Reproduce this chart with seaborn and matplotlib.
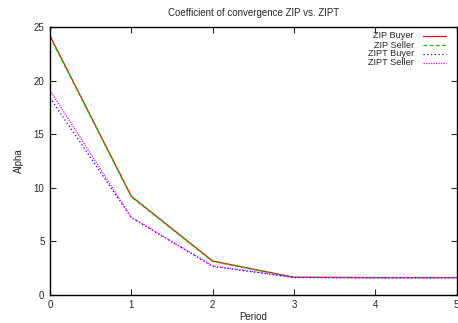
import matplotlib
matplotlib.use("Agg")
import matplotlib.pyplot as plt
import seaborn as sns
import pandas as pd

periods = [0, 1, 2, 3, 4, 5]
zip_buyer = [24.2, 9.2, 3.15, 1.63, 1.6, 1.6]
zip_seller = [24.1, 9.15, 3.1, 1.62, 1.6, 1.6]
zipt_buyer = [18.4, 7.2, 2.65, 1.6, 1.58, 1.58]
zipt_seller = [19.1, 7.25, 2.7, 1.62, 1.6, 1.6]
series_names = ["ZIP Buyer", "ZIP Seller", "ZIPT Buyer", "ZIPT Seller"]
colors = ["#ff0000", "#00cc00", "#0000ff", "#ff00ff"]
dashes = [None, (3, 2), (1, 2), (1, 1)]

sns.set_style("ticks")
plt.rcParams['font.family'] = ['Liberation Sans', 'DejaVu Sans']

W, H = 458, 323
fig = plt.figure(figsize=(W / 100, H / 100), dpi=100)
ax_l, ax_r, ax_t, ax_b = 50, 456.5, 27.2, 294.7
ax = fig.add_axes([ax_l / W, 1 - ax_b / H, (ax_r - ax_l) / W, (ax_b - ax_t) / H])

values = [zip_buyer, zip_seller, zipt_buyer, zipt_seller]
for name, vals, c, d in zip(series_names, values, colors, dashes):
    df = pd.DataFrame({"Period": periods, "Alpha": vals})
    sns.lineplot(data=df, x="Period", y="Alpha", color=c, lw=0.9, ax=ax, legend=False)
    if d is not None:
        ax.lines[-1].set_dashes(d)

ax.set_xlim(0, 5)
ax.set_ylim(0, 25)
ax.set_xticks([0, 1, 2, 3, 4, 5])
ax.set_yticks([0, 5, 10, 15, 20, 25])
ax.tick_params(direction="in", top=True, right=True, labelsize=7, length=4, width=0.8, pad=4)
for s in ax.spines.values():
    s.set_linewidth(1.0)
    s.set_color("black")
ax.set_xlabel("Period", fontsize=7, labelpad=1)
ax.set_ylabel("Alpha", fontsize=7, labelpad=7)
ax.set_title("Coefficient of convergence ZIP vs. ZIPT", fontsize=7, pad=8)

# gnuplot-style key: right-aligned text, then line sample
ah = ax_b - ax_t
aw = ax_r - ax_l
row_y = [36, 45, 54, 62.7]
text_x = (414 - ax_l) / aw
line_x0 = (423 - ax_l) / aw
line_x1 = (446 - ax_l) / aw
for name, c, d, yp in zip(series_names, colors, dashes, row_y):
    yf = (ax_b - yp) / ah
    ax.text(text_x, yf, name, transform=ax.transAxes, ha="right", va="center", fontsize=6.6)
    ln, = ax.plot([line_x0, line_x1], [yf, yf], transform=ax.transAxes, color=c, lw=0.9)
    if d is not None:
        ln.set_dashes(d)

fig.savefig("out.png", dpi=100)
